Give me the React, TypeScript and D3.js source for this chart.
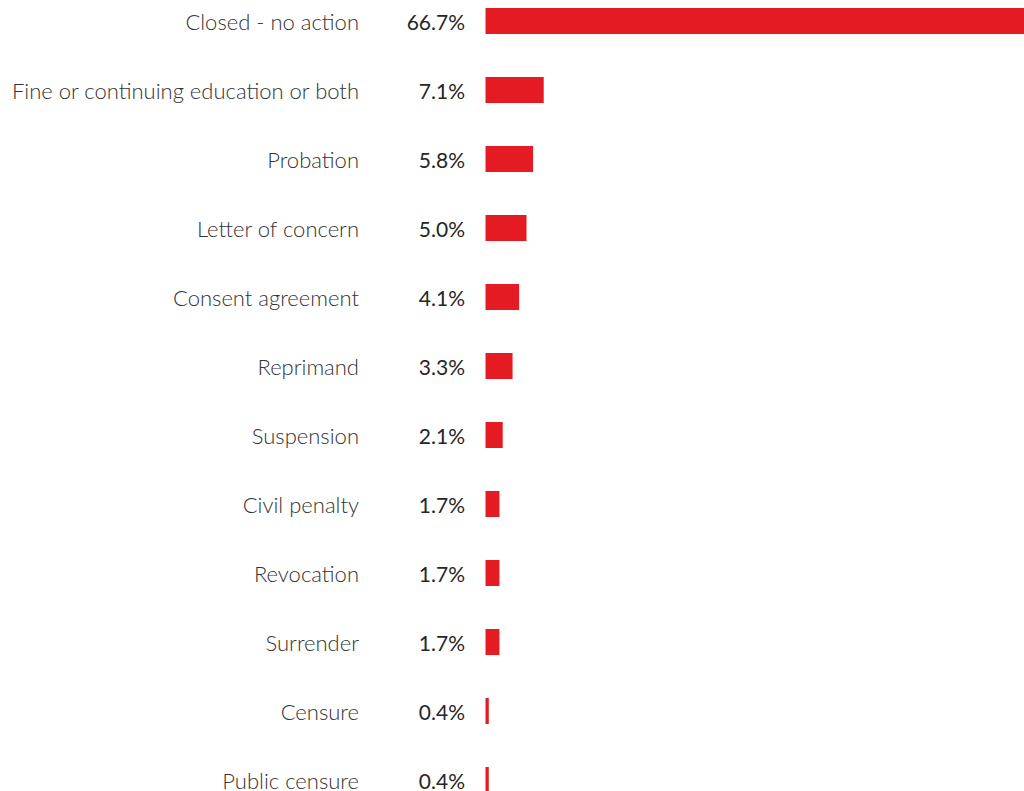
import React from "react";
import * as d3 from "d3";

const categories = [
  "Closed - no action",
  "Fine or continuing education or both",
  "Probation",
  "Letter of concern",
  "Consent agreement",
  "Reprimand",
  "Suspension",
  "Civil penalty",
  "Revocation",
  "Surrender",
  "Censure",
  "Public censure",
];
const values = [66.7, 7.1, 5.8, 5.0, 4.1, 3.3, 2.1, 1.7, 1.7, 1.7, 0.4, 0.4];
const valueLabels = ["66.7%", "7.1%", "5.8%", "5.0%", "4.1%", "3.3%", "2.1%", "1.7%", "1.7%", "1.7%", "0.4%", "0.4%"];

const W = 1024;
const H = 791;

export default function App() {
  const x = d3.scaleLinear().domain([0, 1]).range([485.5, 485.5 + 8.2]);
  const y = d3
    .scaleBand<string>()
    .domain(categories)
    .range([-13.5, 814.5])
    .paddingInner(43 / 69)
    .paddingOuter(21.5 / 69);
  const bh = y.bandwidth();
  return (
    <svg
      width={W}
      height={H}
      style={{ position: "absolute", left: 0, top: 0, background: "#fff" }}
    >
      {categories.map((c, i) => {
        const yc = (y(c) as number) + bh / 2;
        return (
          <g key={c}>
            <text
              x={359}
              y={yc + 8.5}
              textAnchor="end"
              fontFamily="Lato, 'Open Sans', sans-serif"
              fontWeight={300}
              fontSize={22}
              fill="#333"
            >
              {c}
            </text>
            <text
              x={465}
              y={yc + 8.5}
              textAnchor="end"
              fontFamily="Lato, 'Open Sans', sans-serif"
              fontWeight={400}
              fontSize={21}
              fill="#262626"
            >
              {valueLabels[i]}
            </text>
            <rect
              x={x(0)}
              y={y(c)}
              width={x(values[i]) - x(0)}
              height={bh}
              fill="#E51B24"
            />
          </g>
        );
      })}
    </svg>
  );
}
